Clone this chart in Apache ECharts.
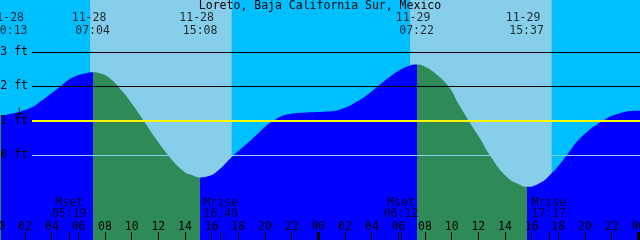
<!DOCTYPE html>
<html><head><meta charset="utf-8">
<script src="https://cdn.jsdelivr.net/npm/echarts@6/dist/echarts.min.js"></script>
<style>html,body{margin:0;padding:0;background:#00BFFF}#c{width:640px;height:240px}</style>
</head><body><div id="c"></div>
<script>
// ---------- data ----------
const chartTitle = 'Loreto, Baja California Sur, Mexico';
const days = ['11-28', '11-29'];
// tide curve (hours since 11-28 00:00, feet)
const curveHours = [0, 0.217, 0.875, 1.55, 2.6, 3.125, 3.65, 4.625, 5.6, 6.575,
  7.067, 7.625, 8.375, 9.375, 10.125, 10.875, 11.875, 12.75, 13.875, 14.5, 15.133, 15.75, 16.375,
  17.625, 18.125, 18.875, 19.375, 20.625, 21.875, 23.125, 24.625, 25.625, 26.875,
  28.125, 28.625, 29.375, 30.125, 30.725, 31.367, 32.0, 32.625, 33.75, 34.5, 35.25,
  36.125, 36.875, 38.125, 39.0, 39.617, 40.625, 41.5, 42.625, 43.625, 45.375, 46.625,
  48.125, 48.2];
const curveFeet = [1.18, 1.16, 1.20, 1.26, 1.41, 1.55, 1.70, 1.99, 2.26, 2.38,
  2.41, 2.38, 2.23, 1.82, 1.44, 1.02, 0.45, 0.0, -0.45, -0.57, -0.64, -0.60, -0.47,
  0.0, 0.17, 0.42, 0.60, 1.0, 1.20, 1.24, 1.27, 1.33, 1.55,
  1.89, 2.05, 2.28, 2.47, 2.58, 2.63, 2.57, 2.42, 2.0, 1.5, 1.02,
  0.49, 0.0, -0.62, -0.83, -0.91, -0.80, -0.52, 0.0, 0.49, 1.01, 1.22,
  1.29, 1.29];
// high / low tides
const extremeDates = ['11-28', '11-28', '11-28', '11-29', '11-29'];
const extremeTimes = ['00:13', '07:04', '15:08', '07:22', '15:37'];
const extremeTypes = ['L', 'H', 'L', 'H', 'L'];
// moon
const moonEvents = ['Mset', 'Mrise', 'Mset', 'Mrise'];
const moonDates = ['11-28', '11-28', '11-29', '11-29'];
const moonTimes = ['05:19', '16:40', '06:12', '17:17'];
// sun
const sunDates = ['11-28', '11-29'];
const sunriseTimes = ['06:53', '06:53'];
const sunsetTimes = ['17:30', '17:30'];
// level lines (ft)
const levelFeet = [0, 1, 2, 3];
// current-time marker
const nowDate = '11-28', nowTime = '01:34', nowFeet = 1.27;

// ---------- helpers / styles ----------
const X_MIN = 0, X_MAX = 48.2, Y_MIN = -2.45, Y_MAX = 4.5;
const FONT = 'DejaVu Sans Mono', FS = 11.5;
const NIGHT = '#00BFFF', DAY = '#87CEEB', FLOOD = '#0000FF', EBB = '#2E8B57';
const levelStyle = { 0: { color: '#87CEEB', width: 1, over: true }, 1: { color: '#FFFF00', width: 2, over: true },
                     2: { color: '#000000', width: 1, over: false }, 3: { color: '#000000', width: 1, over: false } };
function toH(d, t) { const [hh, mm] = t.split(':').map(Number); return days.indexOf(d) * 24 + hh + mm / 60; }

const extH = extremeDates.map((d, i) => toH(d, extremeTimes[i]));
const moonH = moonDates.map((d, i) => toH(d, moonTimes[i]));
const dayBounds = days.map((d, i) => (i + 1) * 24);

const pieces = [];
let prev = X_MIN - 1;
extH.forEach((h, i) => { pieces.push({ gte: prev, lt: h, color: extremeTypes[i] === 'L' ? EBB : FLOOD }); prev = h; });
pieces.push({ gte: prev, lte: X_MAX + 1, color: extremeTypes[extremeTypes.length - 1] === 'L' ? FLOOD : EBB });

function levelLines(over) {
  return levelFeet.filter(v => levelStyle[v].over === over).map(v => [
    { x: 32, yAxis: v, lineStyle: { color: levelStyle[v].color, width: levelStyle[v].width, type: 'solid' } },
    { x: 640, yAxis: v }
  ]);
}

const textBase = { color: '#000', fontFamily: FONT, fontSize: FS };

const hiddenAxis = (extra) => Object.assign({
  type: 'value', min: X_MIN, max: X_MAX, position: 'bottom', z: 10,
  axisLine: { show: false, onZero: false }, splitLine: { show: false }, axisLabel: { show: false }
}, extra);

const chart = echarts.init(document.getElementById('c'), null, { renderer: 'canvas' });
chart.setOption({
  animation: false,
  backgroundColor: NIGHT,
  title: { text: chartTitle, left: 'center', top: 0.5, padding: 0,
    textStyle: Object.assign({ fontWeight: 'normal' }, textBase) },
  grid: { left: -1.667, right: -1, top: 0, bottom: 0, containLabel: false, outerBoundsMode: 'none' },
  xAxis: [
    hiddenAxis({
      interval: 2,
      axisTick: { show: true, inside: true, length: 8, lineStyle: { color: '#000', width: 1 } },
      axisLabel: Object.assign({ show: true, inside: true, margin: 7, showMaxLabel: false,
        formatter: v => String(Math.round(v) % 24).padStart(2, '0') }, textBase)
    }),
    hiddenAxis({ axisTick: { show: true, inside: true, length: 8, customValues: moonH, lineStyle: { color: '#000', width: 1 } } }),
    hiddenAxis({ axisTick: { show: true, inside: true, length: 8, customValues: dayBounds, lineStyle: { color: '#000', width: 3 } } })
  ],
  yAxis: {
    type: 'value', min: Y_MIN, max: Y_MAX, z: 10,
    axisLine: { show: false }, axisTick: { show: false }, splitLine: { show: false },
    axisLabel: Object.assign({ inside: true, margin: 2, customValues: levelFeet, formatter: v => v + ' ft' }, textBase)
  },
  visualMap: { type: 'piecewise', show: false, dimension: 0, seriesIndex: 2, pieces: pieces },
  series: [
    { type: 'line', z: 0, data: [], silent: true,
      markArea: { silent: true, itemStyle: { color: DAY, opacity: 1 },
        data: sunDates.map((d, i) => [{ xAxis: toH(d, sunriseTimes[i]) }, { xAxis: toH(d, sunsetTimes[i]) }]) } },
    { type: 'line', z: 1, data: [], silent: true,
      markLine: { silent: true, symbol: ['none', 'none'], label: { show: false }, data: levelLines(false) } },
    { type: 'line', z: 2, silent: true, data: curveHours.map((h, i) => [h, curveFeet[i]]),
      smooth: 0.5, showSymbol: false, symbol: 'none',
      lineStyle: { width: 0, opacity: 0 }, areaStyle: { opacity: 1, origin: 'start' } },
    { type: 'line', z: 3, data: [], silent: true,
      markLine: { silent: true, symbol: ['none', 'none'], label: { show: false }, data: levelLines(true) } },
    { type: 'scatter', z: 4, silent: true, clip: false, symbolSize: 1, itemStyle: { color: 'transparent' },
      data: extH.map((h, i) => ({ value: [h, Y_MAX], label: { offset: [i === 0 ? 9 : 0, 0] } })),
      label: Object.assign({ show: true, position: 'bottom', distance: 11.4, lineHeight: 12.6,
        formatter: p => '{d|' + extremeDates[p.dataIndex] + '}\n{t|' + extremeTimes[p.dataIndex] + '}',
        rich: { d: Object.assign({ padding: [0, 7, 0, 0], lineHeight: 12.6 }, textBase),
                t: Object.assign({ lineHeight: 12.6 }, textBase) } }, textBase) },
    { type: 'scatter', z: 4, silent: true, clip: false, symbolSize: 1, itemStyle: { color: 'transparent' },
      data: moonH.map(h => [h, Y_MIN]),
      label: Object.assign({ show: true, position: 'top', distance: 19.6, lineHeight: 11.3, align: 'center',
        formatter: p => moonEvents[p.dataIndex] + '\n' + moonTimes[p.dataIndex] }, textBase) },
    { type: 'scatter', z: 5, silent: true, clip: false,
      symbol: 'path://M4.5,0V8M0,6H9', symbolSize: [9, 8],
      itemStyle: { color: 'none', borderColor: '#000', borderWidth: 1 },
      data: [[toH(nowDate, nowTime), nowFeet]] }
  ]
});
</script>
</body></html>
